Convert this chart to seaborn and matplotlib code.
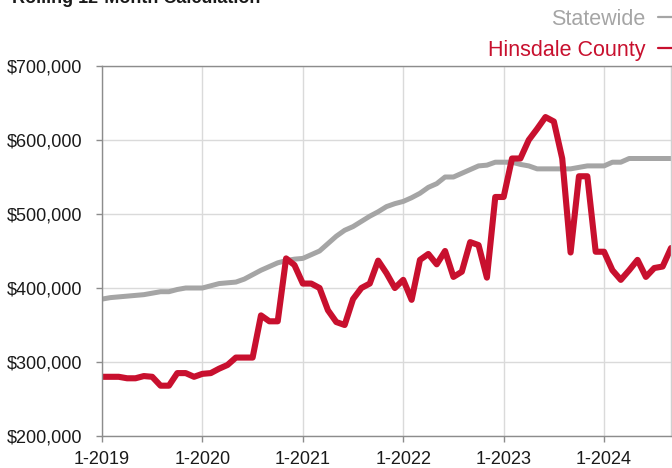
import pandas as pd
import matplotlib.pyplot as plt
import matplotlib.ticker as mticker
import seaborn as sns

# Rolling 12-month median sales price, monthly from 1-2019 to 9-2024 (values in $1,000)
months = list(range(69))
statewide = [385, 387, 388, 389, 390, 391, 393, 395, 395, 398, 400, 400,
             400, 403, 406, 407, 408, 412, 418, 424, 429, 434, 437, 439,
             440, 445, 450, 460, 470, 478, 483, 490, 497, 503, 510, 514,
             517, 522, 528, 536, 541, 550, 550, 555, 560, 565, 566, 570,
             570, 570, 567, 565, 561, 561, 561, 561, 561, 563, 565, 565,
             565, 570, 570, 575, 575, 575, 575, 575, 575]
hinsdale = [280, 280, 280, 278, 278, 281, 280, 268, 268, 285, 285, 280,
            284, 285, 291, 296, 306, 306, 306, 363, 355, 355, 440, 431,
            406, 406, 400, 370, 354, 350, 385, 400, 406, 437, 420, 400,
            411, 384, 438, 446, 432, 450, 415, 422, 462, 458, 414, 523,
            523, 575, 575, 600, 615, 631, 625, 575, 448, 551, 551, 449,
            449, 424, 411, 424, 438, 415, 427, 429, 454]
tick_months = [0, 12, 24, 36, 48, 60]
tick_labels = ['1-2019', '1-2020', '1-2021', '1-2022', '1-2023', '1-2024']

GRAY = '#A5A5A5'
RED = '#C8102E'


def plot_rolling_price():
    df = pd.DataFrame({
        'Month': months,
        'Statewide': [v * 1000 for v in statewide],
        'Hinsdale County': [v * 1000 for v in hinsdale],
    })

    sns.set_style('white')
    plt.rcParams['font.family'] = ['Liberation Sans', 'DejaVu Sans']

    fig = plt.figure(figsize=(6.72, 4.68), dpi=100)
    ax = fig.add_axes([102 / 672, 1 - 436 / 468, (671 - 102) / 672, 370 / 468])

    sns.lineplot(data=df, x='Month', y='Statewide', ax=ax, color=GRAY,
                 linewidth=3.6, label='Statewide')
    sns.lineplot(data=df, x='Month', y='Hinsdale County', ax=ax, color=RED,
                 linewidth=4.4, label='Hinsdale County')

    ax.set_xlim(0, 68)
    ax.set_ylim(200000, 700000)
    ax.set_xticks(tick_months)
    ax.set_xticklabels(tick_labels)
    ax.yaxis.set_major_locator(mticker.MultipleLocator(100000))
    ax.yaxis.set_major_formatter(mticker.StrMethodFormatter('${x:,.0f}'))
    ax.set_xlabel('')
    ax.set_ylabel('')

    ax.grid(True, color='#DADADA', linewidth=1)
    ax.set_axisbelow(True)
    for side in ['left', 'bottom', 'top', 'right']:
        ax.spines[side].set_color('#8C8C8C')
        ax.spines[side].set_linewidth(1)
    ax.spines['right'].set_color('#D0D0D0')
    ax.tick_params(axis='both', which='both', length=4, width=1,
                   color='#8C8C8C', labelsize=13, labelcolor='#1A1A1A',
                   bottom=True, left=True)
    ax.tick_params(axis='y', pad=10)
    ax.tick_params(axis='x', pad=7)

    leg = ax.legend(loc='upper right', bbox_to_anchor=(684 / 672, 1 - 9 / 468),
                    bbox_transform=fig.transFigure, frameon=False, markerfirst=False,
                    labelcolor='linecolor', fontsize=15.5, handlelength=1.2,
                    handletextpad=0.6, borderpad=0, borderaxespad=0,
                    labelspacing=0.45)
    for line in leg.get_lines():
        line.set_linewidth(1.6)

    fig.text(12 / 672, 1 - 3 / 468, 'Rolling 12-Month Calculation',
             fontsize=13, fontweight='bold', color='#1A1A1A', va='baseline')

    fig.savefig('out.png', dpi=100)


if __name__ == "__main__":
    plot_rolling_price()
